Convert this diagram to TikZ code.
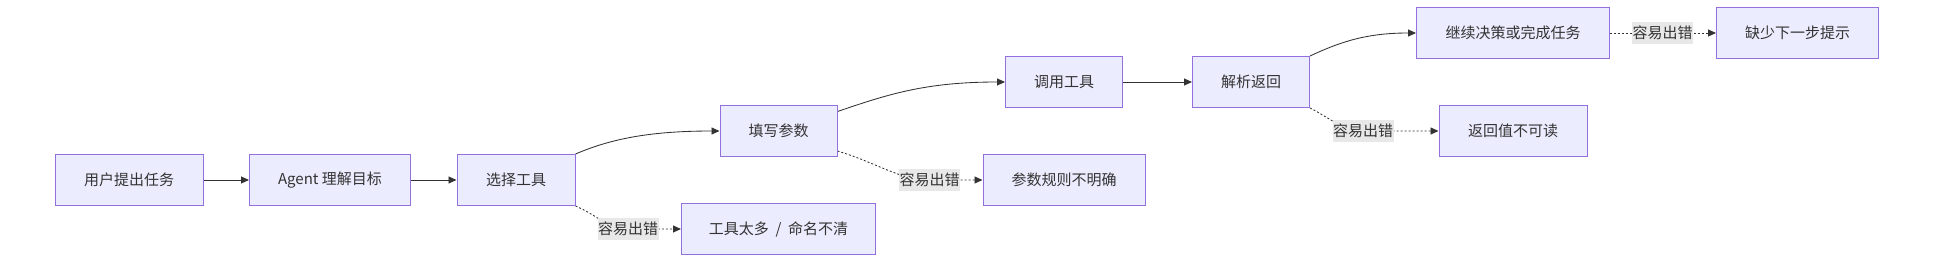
\documentclass[tikz,border=0pt]{standalone}
\usepackage{fontspec}
\setmainfont{Noto Sans CJK SC}
\usetikzlibrary{arrows.meta,calc,backgrounds}
\definecolor{nodefill}{HTML}{ECECFF}
\definecolor{nodeline}{HTML}{9370DB}
\definecolor{edgecol}{HTML}{333333}
\definecolor{lblfill}{HTML}{E8E8E8}
\definecolor{txt}{HTML}{333333}
\begin{document}
\begin{tikzpicture}[x=1pt,y=-1pt,
  box/.style={draw=nodeline, fill=nodefill, line width=1pt, minimum height=51pt, inner sep=0pt, text=txt, font=\fontsize{15pt}{18pt}\selectfont},
  lbl/.style={fill=lblfill, inner sep=0pt, minimum height=22pt, minimum width=61pt, text=txt, font=\fontsize{15pt}{18pt}\selectfont},
  flow/.style={draw=edgecol, line width=0.85pt, -{Triangle[length=8pt,width=7pt]}},
  weak/.style={flow, dash pattern=on 2pt off 2pt}]
\useasboundingbox (0,0) rectangle (1934,262);
% nodes
\node[box, minimum width=148pt] (A) at (129,180) {用户提出任务};
\node[box, minimum width=161pt] (B) at (330,180) {Agent 理解目标};
\node[box, minimum width=118pt] (C) at (516,180) {选择工具};
\node[box, minimum width=117pt] (D) at (778.5,131) {填写参数};
\node[box, minimum width=194pt] (F) at (778.5,229) {工具太多\hspace{0.45em}/\hspace{0.45em}命名不清};
\node[box, minimum width=117pt] (E) at (1064,82) {调用工具};
\node[box, minimum width=162pt] (G) at (1064,180) {参数规则不明确};
\node[box, minimum width=117pt] (H) at (1251,82) {解析返回};
\node[box, minimum width=193pt] (I) at (1513,33) {继续决策或完成任务};
\node[box, minimum width=148pt] (J) at (1513,131) {返回值不可读};
\node[box, minimum width=162pt] (K) at (1797.5,33) {缺少下一步提示};
% edge labels
\node[lbl] (l1) at (628,229) {容易出错};
\node[lbl] (l2) at (929.5,180) {容易出错};
\node[lbl] (l3) at (1363,131) {容易出错};
\node[lbl] (l4) at (1662.5,33) {容易出错};
% edges
\begin{scope}[on background layer]
\fill[white] (0,0) rectangle (1934,262);
\draw[flow] (A.east) -- (B.west);
\draw[flow] (B.east) -- (C.west);
\draw[flow] (C.north east) .. controls +(35,-15) and +(-70,0) .. (D.west);
\draw[flow] ($(D.north east)+(0,6.5)$) .. controls +(50,-17) and +(-80,0) .. (E.west);
\draw[flow] (E.east) -- (H.west);
\draw[flow] (H.north east) .. controls +(30,-14) and +(-50,0) .. (I.west);
\draw[weak] (C.south east) .. controls +(25,11) and +(-20,0) .. (l1.center) -- (F.west);
\draw[weak] ($(D.south east)+(0,-6)$) .. controls +(40,12) and +(-30,0) .. (l2.center) -- (G.west);
\draw[weak] (H.south east) .. controls +(20,10) and +(-20,0) .. (l3.center) -- (J.west);
\draw[weak] (I.east) -- (l4.center) -- (K.west);
\end{scope}
\end{tikzpicture}
\end{document}
